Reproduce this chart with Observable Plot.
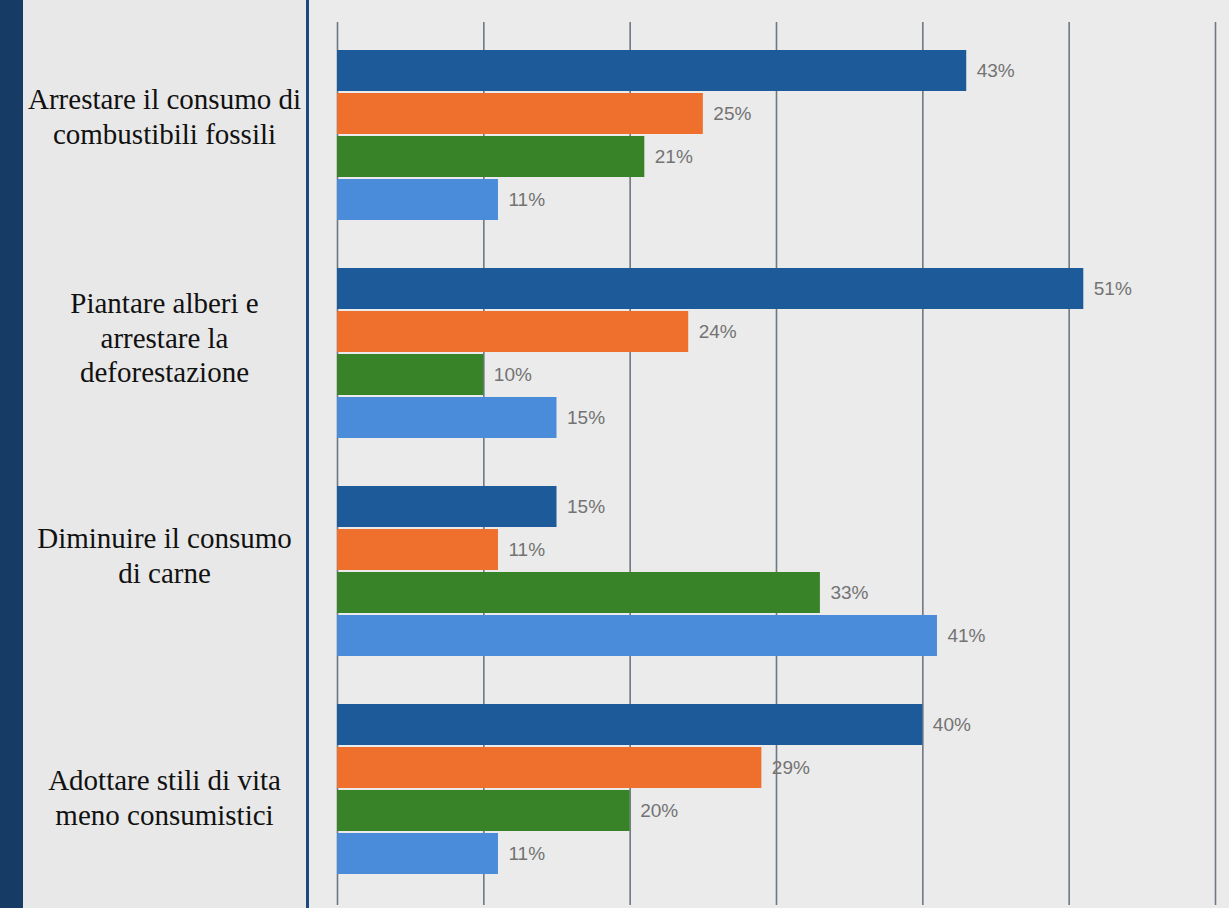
<!DOCTYPE html>
<html><head><meta charset="utf-8">
<script src="https://cdn.jsdelivr.net/npm/d3@7"></script>
<script src="https://cdn.jsdelivr.net/npm/@observablehq/plot@0.6"></script>
<style>
html,body{margin:0;padding:0;width:1229px;height:908px;overflow:hidden;background:#e8e8e8}
#wrap{position:relative;width:1229px;height:908px}
#strip{position:absolute;left:0;top:0;width:23px;height:908px;background:#163c66}
#divider{position:absolute;left:306px;top:0;width:3px;height:908px;background:#1a4a80}
#panel{position:absolute;left:309px;top:0;width:920px;height:908px;background:#ebebeb}
#grid,#chart{position:absolute;left:0;top:0}
</style>
</head><body>
<div id="wrap"><div id="strip"></div><div id="panel"></div><div id="divider"></div><div id="grid"></div><div id="chart"></div></div>
<script>
// ---- data ----
const categories = [
  "Arrestare il consumo di\ncombustibili fossili",
  "Piantare alberi e\narrestare la\ndeforestazione",
  "Diminuire il consumo\ndi carne",
  "Adottare stili di vita\nmeno consumistici"
];
const seriesNames = ["Serie 1", "Serie 2", "Serie 3", "Serie 4"];
const serie1 = [43, 51, 15, 40];
const serie2 = [25, 24, 11, 29];
const serie3 = [21, 10, 33, 20];
const serie4 = [11, 15, 41, 11];
const xTicks = [0, 10, 20, 30, 40, 50, 60];

// ---- build table ----
const seriesValues = [serie1, serie2, serie3, serie4];
const rows = [];
categories.forEach((c, i) => {
  seriesNames.forEach((s, j) => rows.push({category: c, series: s, value: seriesValues[j][i]}));
});

const colors = ["#1d5a9a", "#ef6f2c", "#388327", "#4a8cd9"];
const W = 1229, H = 908;
const xOpts = {domain: [0, 60], type: "linear"};

// gridlines layer
const grid = Plot.plot({
  width: W, height: H,
  marginLeft: 337, marginRight: 14, marginTop: 22, marginBottom: 3,
  style: {background: "transparent"},
  x: {...xOpts, axis: null},
  marks: [
    Plot.ruleX(xTicks, {stroke: "#6f7781", strokeWidth: 1.6})
  ]
});
document.getElementById("grid").appendChild(grid);

// label vertical shifts (layout)
const labelShift = [-20, -17, -17, 7];

const chart = Plot.plot({
  width: W, height: H,
  marginLeft: 337, marginRight: 14, marginTop: 47, marginBottom: 31,
  style: {background: "transparent"},
  x: {...xOpts, axis: null},
  y: {domain: seriesNames, axis: null, paddingInner: 0.045, paddingOuter: 0},
  fy: {domain: categories, axis: null, paddingInner: 0.2, paddingOuter: 0},
  color: {domain: seriesNames, range: colors},
  marks: [
    Plot.barX(rows, {fy: "category", y: "series", x: "value", fill: "series"}),
    Plot.text(rows, {fy: "category", y: "series", x: "value", text: d => d.value + "%",
      textAnchor: "start", dx: 10, fill: "#737373", fontSize: 19,
      fontFamily: "Liberation Sans, Arial, sans-serif"}),
    ...categories.map((c, i) => Plot.text([c], {fy: d => d, text: d => d,
      frameAnchor: "left", dx: -173, dy: labelShift[i], textAnchor: "middle", lineAnchor: "middle",
      fontSize: 29, lineHeight: 1.2, fill: "#111",
      fontFamily: "Liberation Serif, Times New Roman, serif"}))
  ]
});
document.getElementById("chart").appendChild(chart);
</script>
</body></html>
